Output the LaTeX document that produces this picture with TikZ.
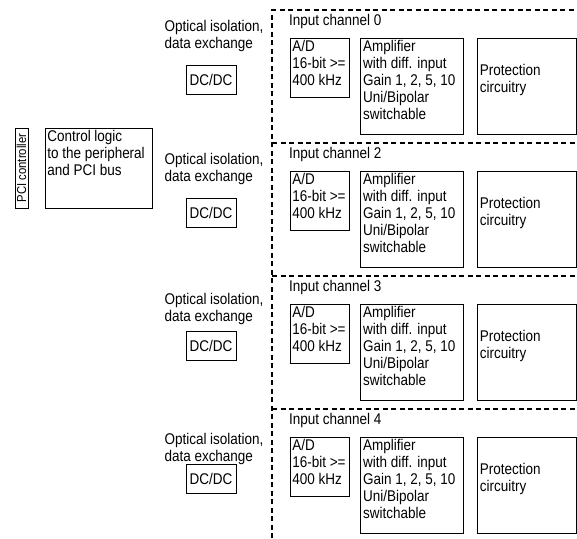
\documentclass[tikz,border=0pt]{standalone}
\usepackage{fontspec}
\setmainfont[FakeStretch=0.87]{Liberation Sans}
\usetikzlibrary{positioning}

\begin{document}
\begin{tikzpicture}[x=1pt, y=-1pt, font=\fontsize{15.5}{17}\selectfont,
  blk/.style = {draw, line width=0.8pt, inner sep=0},
  inlbl/.style = {anchor=north west, align=left, inner sep=2.5pt},
  dcbox/.style = {blk, minimum width=50pt, minimum height=29pt},
  adbox/.style = {blk, minimum width=59pt, minimum height=59pt},
  ampbox/.style = {blk, minimum width=103pt, minimum height=96pt},
  protbox/.style = {blk, minimum width=99pt, minimum height=96pt},
  optlbl/.style = {align=left, inner sep=0},
  chlbl/.style = {anchor=west, inner sep=0},
  sep/.style = {line width=2pt, dash pattern=on 5pt off 3.5pt},
  node distance=133pt]

\useasboundingbox (0,0) rectangle (577,538);

\node[blk, rotate=90, minimum width=80pt, minimum height=13pt, font=\fontsize{13}{13}\selectfont](pci) at (21.5,168){PCI controller};
\node[blk, minimum width=107pt, minimum height=80pt, label={[inlbl]north west:{Control logic\\to the peripheral\\and PCI bus}}](ctrl) at (98.5,168){};

\node[optlbl](opt0) at (214,36){Optical isolation,\\data exchange};
\node[optlbl](opt2) at (214,169){Optical isolation,\\data exchange};
\node[optlbl](opt3) at (214,309){Optical isolation,\\data exchange};
\node[optlbl](opt4) at (214,449){Optical isolation,\\data exchange};

\node[dcbox](dc0) at (211,80){DC/DC};
\node[dcbox, below of=dc0](dc2){DC/DC};
\node[dcbox, below of=dc2](dc3){DC/DC};
\node[dcbox, below of=dc3](dc4){DC/DC};

\node[chlbl](ch0) at (289,21){Input channel 0};
\node[chlbl, below of=ch0](ch2){Input channel 2};
\node[chlbl, below of=ch2](ch3){Input channel 3};
\node[chlbl, below of=ch3](ch4){Input channel 4};

\node[adbox, label={[inlbl]north west:{A/D\\16-bit >=\\400 kHz}}](ad0) at (319.5,67.5){};
\node[adbox, below of=ad0, label={[inlbl]north west:{A/D\\16-bit >=\\400 kHz}}](ad2){};
\node[adbox, below of=ad2, label={[inlbl]north west:{A/D\\16-bit >=\\400 kHz}}](ad3){};
\node[adbox, below of=ad3, label={[inlbl]north west:{A/D\\16-bit >=\\400 kHz}}](ad4){};

\node[ampbox, right=11pt of ad0.north east, anchor=north west, label={[inlbl]north west:{Amplifier\\with diff. input\\Gain 1, 2, 5, 10\\Uni/Bipolar\\switchable}}](amp0){};
\node[ampbox, below of=amp0, label={[inlbl]north west:{Amplifier\\with diff. input\\Gain 1, 2, 5, 10\\Uni/Bipolar\\switchable}}](amp2){};
\node[ampbox, below of=amp2, label={[inlbl]north west:{Amplifier\\with diff. input\\Gain 1, 2, 5, 10\\Uni/Bipolar\\switchable}}](amp3){};
\node[ampbox, below of=amp3, label={[inlbl]north west:{Amplifier\\with diff. input\\Gain 1, 2, 5, 10\\Uni/Bipolar\\switchable}}](amp4){};

\node[protbox, right=13pt of amp0.north east, anchor=north west, label={[anchor=west, align=left, inner sep=2.5pt, yshift=6pt]west:{Protection\\circuitry}}](prot0){};
\node[protbox, below of=prot0, label={[anchor=west, align=left, inner sep=2.5pt, yshift=6pt]west:{Protection\\circuitry}}](prot2){};
\node[protbox, below of=prot2, label={[anchor=west, align=left, inner sep=2.5pt, yshift=6pt]west:{Protection\\circuitry}}](prot3){};
\node[protbox, below of=prot3, label={[anchor=west, align=left, inner sep=2.5pt, yshift=6pt]west:{Protection\\circuitry}}](prot4){};

% channel separators
\draw[sep] (272,538) -- (272,10) -- (577,10);
\draw[sep] (272,143) -- (577,143);
\draw[sep] (272,276) -- (577,276);
\draw[sep] (272,409) -- (577,409);

\end{tikzpicture}
\end{document}
